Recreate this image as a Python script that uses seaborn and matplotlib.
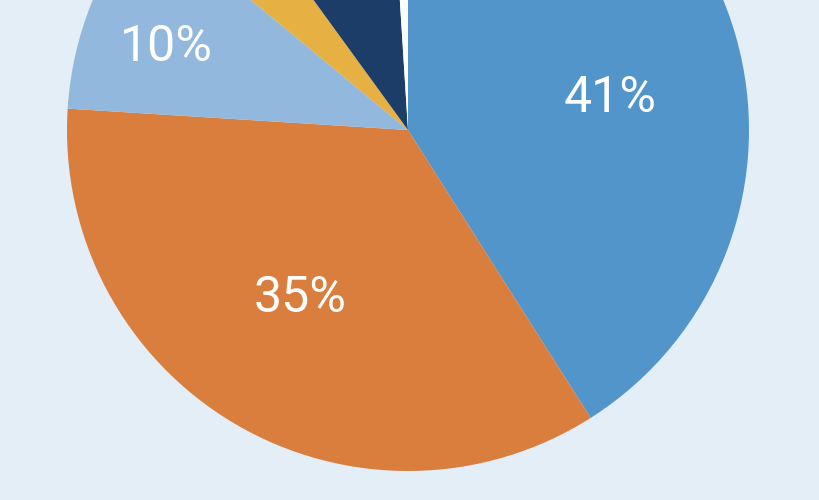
import numpy as np
import matplotlib
matplotlib.use("Agg")
import matplotlib.pyplot as plt
import seaborn as sns

# data (clockwise from 12 o'clock)
labels = ["A", "B", "C", "D", "E", "F"]
values = [41, 35, 10, 4, 9, 1]
colors = ["#5295cb", "#da7e3e", "#93b8de", "#e6b043", "#1c3d68", "#ffffff"]

# where each percentage label sits: radius (fraction of pie) and angle nudge (deg, clockwise)
label_radius = [0.60, 0.585, 0.75, 0.75, 0.75, 0.75]
label_shift = [7.3, 2.2, -2.7, 0, 0, 0]

sns.set_style("white")
plt.rcParams['font.family'] = ['Roboto', 'DejaVu Sans']

bg = "#e3eef7"
fig = plt.figure(figsize=(8.2, 5), dpi=100, facecolor=bg)
# pie is bigger than the canvas, top part is cropped
ax = fig.add_axes([0.0817, 0.058, 0.8317, 1.364])
ax.set_facecolor(bg)


def pct_label(p):
    # labels of the small slices fall above the visible area
    return f"{p:.0f}%" if p >= 10 else ""


wedges, texts, autotexts = ax.pie(
    values, colors=colors, startangle=90, counterclock=False,
    autopct=pct_label, pctdistance=0.59,
    textprops={"color": "white", "fontsize": 36},
    wedgeprops={"linewidth": 0},
)

for w, t, r, s in zip(wedges, autotexts, label_radius, label_shift):
    mid = np.deg2rad((w.theta1 + w.theta2) / 2 - s)
    t.set_position((r * np.cos(mid), r * np.sin(mid)))

ax.set_xlim(-1, 1)
ax.set_ylim(-1, 1)
ax.set_aspect("equal")
ax.axis("off")

fig.savefig("out.png", dpi=100, facecolor=bg)
